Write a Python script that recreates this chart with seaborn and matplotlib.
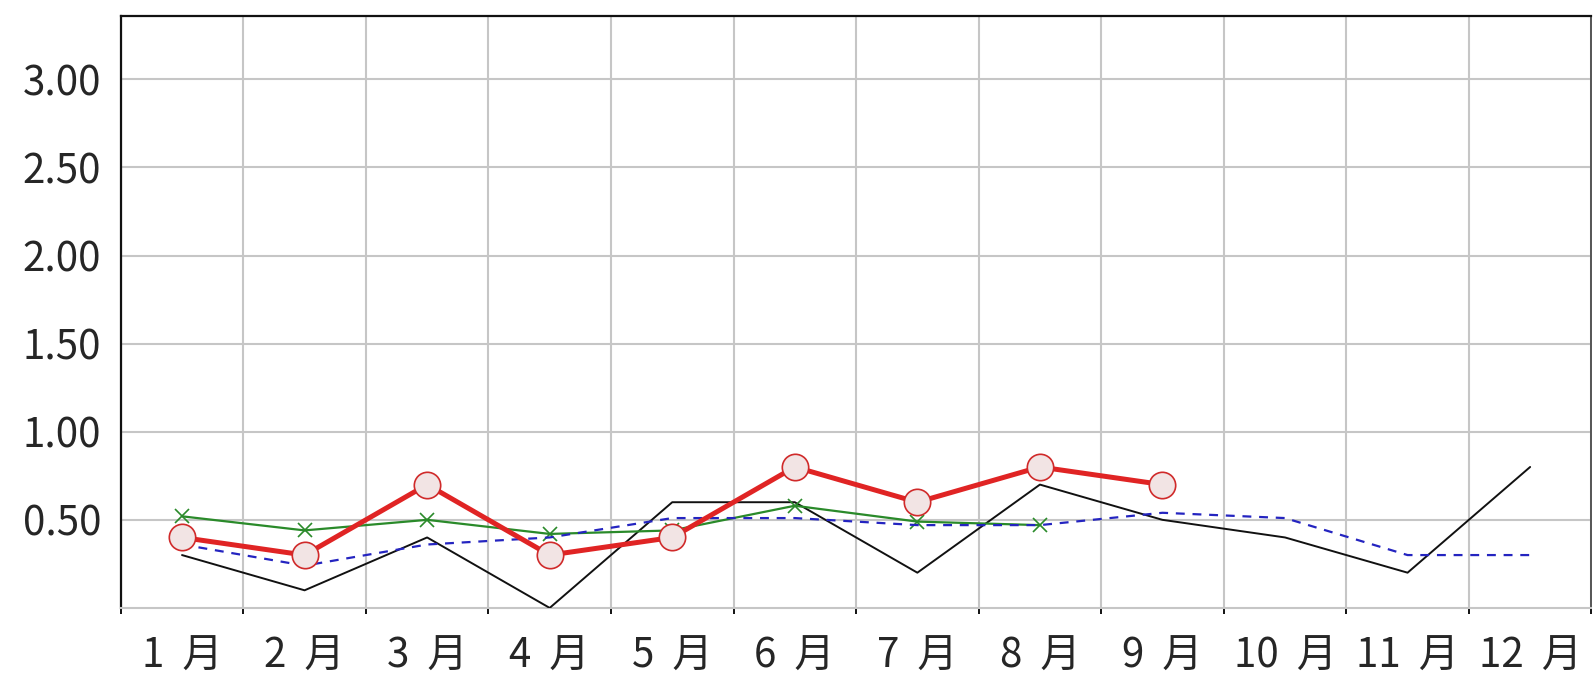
import matplotlib
matplotlib.use("Agg")
import matplotlib.pyplot as plt
import numpy as np
import seaborn as sns
from matplotlib.ticker import FixedLocator

MONTHS = ["1  月", "2  月", "3  月", "4  月", "5  月", "6  月",
          "7  月", "8  月", "9  月", "10  月", "11  月", "12  月"]
BLACK_VALUES = [0.30, 0.10, 0.40, 0.00, 0.60, 0.60, 0.20, 0.70, 0.50, 0.40, 0.20, 0.80]
BLUE_VALUES = [0.36, 0.24, 0.36, 0.40, 0.51, 0.51, 0.47, 0.47, 0.54, 0.51, 0.30, 0.30]
GREEN_VALUES = [0.52, 0.44, 0.50, 0.42, 0.44, 0.58, 0.49, 0.47]
RED_VALUES = [0.40, 0.30, 0.70, 0.30, 0.40, 0.80, 0.60, 0.80, 0.70]
Y_TICKS = [0.5, 1.0, 1.5, 2.0, 2.5, 3.0]
Y_MAX = 3.36

sns.set_style("white")
plt.rcParams["font.family"] = ["Noto Sans CJK JP", "DejaVu Sans"]

fig = plt.figure(figsize=(15.93, 6.8), dpi=100)
ax = fig.add_axes([0.0758, 0.106, 0.9232, 0.8705])

grid_color = "#c6c6c6"

sns.lineplot(x=np.arange(len(BLACK_VALUES)), y=BLACK_VALUES, color="#111111",
             linewidth=1.4, ax=ax, zorder=3)
sns.lineplot(x=np.arange(len(GREEN_VALUES)), y=GREEN_VALUES, color="#2a8a2a",
             linewidth=1.6, marker="x", markersize=10, markeredgewidth=1.2,
             markeredgecolor="#2a8a2a", ax=ax, zorder=4)
sns.lineplot(x=np.arange(len(BLUE_VALUES)), y=BLUE_VALUES, color="#2424c0",
             linewidth=1.6, linestyle=(0, (4, 3.5)), ax=ax, zorder=5)
sns.lineplot(x=np.arange(len(RED_VALUES)), y=RED_VALUES, color="#e02424",
             linewidth=3.6, marker="o", markersize=19, markerfacecolor="#f2e4e4",
             markeredgecolor="#d02a2a", markeredgewidth=1.2, ax=ax, zorder=6)

ax.set_xlim(-0.5, len(MONTHS) - 0.5)
ax.set_ylim(0, Y_MAX)
ax.set_xticks(np.arange(len(MONTHS)))
ax.set_xticklabels(MONTHS)
ax.xaxis.set_minor_locator(FixedLocator(np.arange(len(MONTHS) + 1) - 0.5))
ax.set_yticks(Y_TICKS)
ax.set_yticklabels([f"{v:.2f}" for v in Y_TICKS])
ax.set_xlabel("")
ax.set_ylabel("")

ax.tick_params(axis="x", which="major", length=0, pad=20, labelsize=29)
ax.tick_params(axis="x", which="minor", length=4.5, width=1.4, color="#111111",
               direction="out", bottom=True)
ax.tick_params(axis="y", which="major", length=0, pad=14, labelsize=29)

ax.grid(False)
ax.grid(axis="x", which="minor", color=grid_color, linewidth=1.5)
ax.grid(axis="y", which="major", color=grid_color, linewidth=1.5)
ax.set_axisbelow(True)

ax.spines["left"].set_color("#111111")
ax.spines["left"].set_linewidth(1.6)
ax.spines["top"].set_color("#111111")
ax.spines["top"].set_linewidth(1.6)
ax.spines["right"].set_color("#555555")
ax.spines["right"].set_linewidth(1.4)
ax.spines["bottom"].set_color(grid_color)
ax.spines["bottom"].set_linewidth(1.5)

fig.savefig("out.png", dpi=100)
